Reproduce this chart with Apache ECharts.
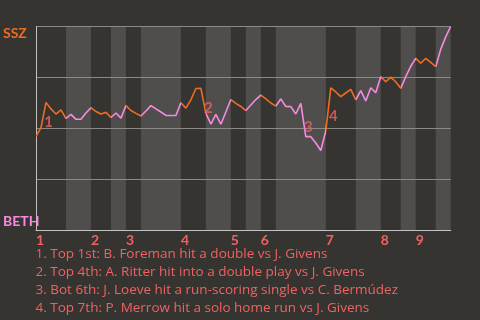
<!DOCTYPE html>
<html><head><meta charset="utf-8">
<script src="https://cdn.jsdelivr.net/npm/echarts@6/dist/echarts.min.js"></script>
<style>html,body{margin:0;padding:0;background:#363430;}#c{width:480px;height:320px;}</style>
</head><body><div id="c"></div>
<script>
// SSZ win probability (%) after each play (play index 0..83)
const winProb = [
  46.2, 50.4, 62.8, 59.6, 57.1, 59.1, 54.9, 56.9, 54.5, 54.5,
  57.6, 60.2, 58.3, 57.1, 57.9, 55.4, 57.6, 55.1, 61.2, 58.8,
  57.4, 56.1, 58.6, 61.2, 59.6, 58.1, 56.4, 56.4, 56.4, 62.6,
  60.0, 64.0, 69.6, 69.7, 57.4, 52.2, 56.9, 52.1, 58.1, 64.2,
  62.3, 60.8, 58.8, 61.5, 64.2, 66.4, 64.5, 62.5, 61.0, 64.5,
  60.8, 60.7, 57.1, 62.3, 46.0, 46.0, 42.9, 39.2, 48.8, 69.9,
  67.9, 65.6, 67.4, 69.2, 64.0, 68.6, 63.5, 70.0, 67.5, 75.4,
  72.9, 75.2, 72.9, 69.7, 75.4, 80.5, 84.4, 82.0, 84.4, 82.4,
  80.3, 88.8, 94.9, 100
];
// play index at which each half-inning starts (last = end of game)
const halfInningStarts = [0, 6, 11, 15, 18, 21, 29, 34, 39, 42, 45, 48, 58, 64, 69, 73, 76, 80, 83];
const inningStarts = [0, 11, 18, 29, 39, 45, 58, 69, 76];
const inningLabels = ['1', '2', '3', '4', '5', '6', '7', '8', '9'];
// play index that ends each key play
const keyPlays = [2, 34, 54, 59];
const keyPlayNotes = [
  '1. Top 1st: B. Foreman hit a double vs J. Givens',
  '2. Top 4th: A. Ritter hit into a double play vs J. Givens',
  '3. Bot 6th: J. Loeve hit a run-scoring single vs C. Bermúdez',
  '4. Top 7th: P. Merrow hit a solo home run vs J. Givens'
];
const teamTop = 'SSZ';
const teamBottom = 'BETH';

const FONT = 'Lato';
const NOTE_FONT = 'Open Sans';
const ORANGE = '#ee6b22';
const PINK = '#f78ae0';
const SALMON = '#f06262';
const BAND = '#4f4e4c';

const lineData = winProb.map((v, i) => [i, v]);
const pieces = [];
const bands = [];
for (let i = 0; i < halfInningStarts.length - 1; i++) {
  const a = halfInningStarts[i], b = halfInningStarts[i + 1];
  const last = i === halfInningStarts.length - 2;
  pieces.push(last ? { gte: a, lte: b, color: i % 2 ? PINK : ORANGE } : { gte: a, lt: b, color: i % 2 ? PINK : ORANGE });
  if (i % 2 === 1) bands.push([{ xAxis: a, itemStyle: { color: BAND } }, { xAxis: b }]);
}
const keyData = keyPlays.map((p, k) => ({
  value: [p - 0.5, (winProb[p - 1] + winProb[p]) / 2],
  name: String(k + 1)
}));

const chart = echarts.init(document.getElementById('c'), null, { renderer: 'canvas' });
chart.setOption({
  animation: false,
  backgroundColor: '#363430',
  textStyle: { fontFamily: FONT },
  grid: { left: 35.3, right: 29.3, top: 26.5, bottom: 89.5 },
  title: {
    text: keyPlayNotes.join('\n'),
    left: 35.5, top: 245.5, padding: 0,
    textStyle: { color: SALMON, fontSize: 13.5, fontWeight: 'normal', lineHeight: 17.8, fontFamily: NOTE_FONT }
  },
  xAxis: {
    type: 'value', min: 0, max: 83, z: 2,
    splitLine: { show: false },
    axisTick: { show: false },
    axisLine: { lineStyle: { color: '#c2c2c2', width: 1 } },
    axisLabel: {
      customValues: inningStarts,
      formatter: v => inningLabels[inningStarts.indexOf(v)],
      align: 'left', margin: 3, color: SALMON, fontWeight: 'bold', fontSize: 14, fontFamily: FONT
    }
  },
  yAxis: {
    type: 'value', min: 0, max: 100, interval: 25, z: 2,
    axisLine: { show: true, lineStyle: { color: '#c2c2c2', width: 1 } },
    axisTick: { show: false },
    splitLine: { lineStyle: { color: '#8a8a88', width: 1 } },
    axisLabel: {
      customValues: [0, 100],
      formatter: v => v === 100 ? '{t|' + teamTop + '}' : '{b|' + teamBottom + '}',
      align: 'left', margin: 33,
      rich: {
        t: { color: ORANGE, fontWeight: 'bold', fontSize: 14, fontFamily: FONT, padding: [14, 0, 0, 0] },
        b: { color: PINK, fontWeight: 'bold', fontSize: 14, fontFamily: FONT, padding: [0, 0, 19, 0] }
      }
    }
  },
  visualMap: { show: false, type: 'piecewise', dimension: 0, seriesIndex: 1, pieces: pieces },
  series: [
    {
      type: 'line', z: 1, data: lineData, showSymbol: false, silent: true,
      lineStyle: { opacity: 0 },
      markArea: { silent: true, data: bands }
    },
    {
      type: 'line', z: 3, data: lineData, showSymbol: false, symbol: 'none',
      lineStyle: { width: 1.6 }
    },
    {
      type: 'scatter', z: 4, data: keyData, symbolSize: 0,
      label: {
        show: true, position: 'inside', offset: [5, 7], formatter: p => p.name,
        color: SALMON, fontWeight: 'bold', fontSize: 15, fontFamily: FONT
      }
    }
  ]
});
</script></body></html>
